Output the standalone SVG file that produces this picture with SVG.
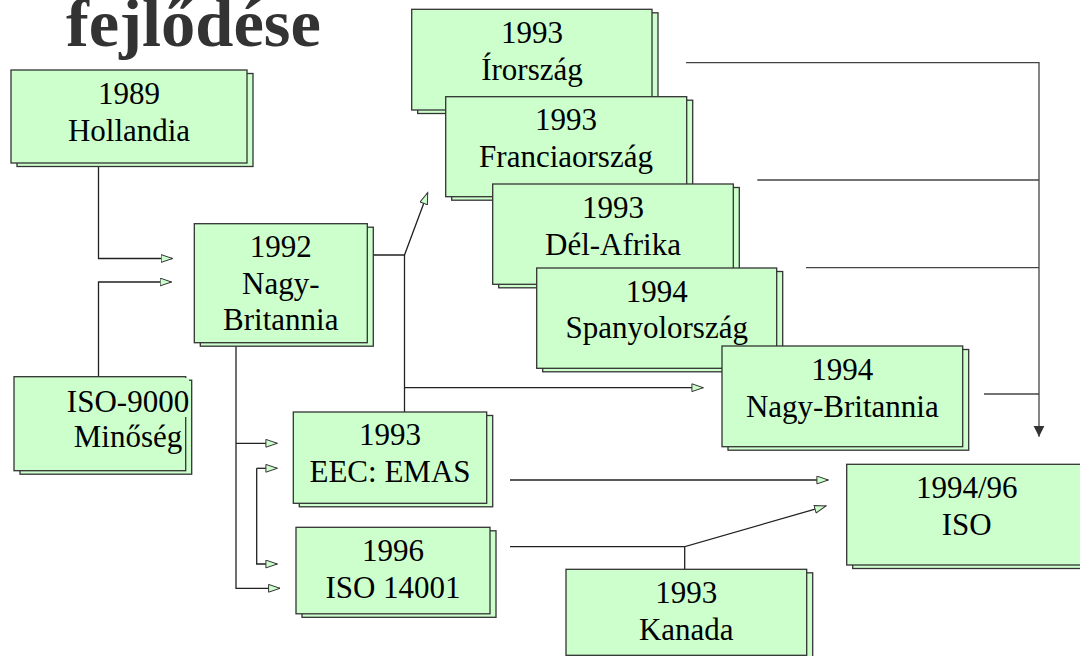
<svg xmlns="http://www.w3.org/2000/svg" width="1080" height="656" viewBox="0 0 1080 656">
<style>
.bg{fill:#fff}
.shadow{fill:#ccffcc;stroke:#333;stroke-width:1.3}
.front{fill:#ccffcc;stroke:#333;stroke-width:1.3}
.t{font-family:'Liberation Serif','DejaVu Serif',serif;font-size:31px;font-weight:normal;fill:#000;text-anchor:middle}
.title{font-family:'Liberation Serif','DejaVu Serif',serif;font-size:68.5px;font-weight:bold;fill:#333}
.c{fill:none;stroke:#222;stroke-width:1.3}
.ca{fill:none;stroke:#222;stroke-width:1.3;marker-end:url(#open)}
.cr{fill:none;stroke:#444;stroke-width:1.3}
</style>
<defs>
<marker id="open" markerWidth="14" markerHeight="10" refX="12" refY="4.5" orient="auto" markerUnits="userSpaceOnUse">
<path d="M0.6,0.6 L12,4.5 L0.6,8.4 z" fill="#ccffcc" stroke="#333" stroke-width="1"/>
</marker>
<marker id="solid" markerWidth="12" markerHeight="12" refX="11" refY="5.5" orient="auto" markerUnits="userSpaceOnUse">
<path d="M0,0 L11,5.5 L0,11 z" fill="#333"/>
</marker>
</defs>
<rect class="bg" x="0" y="0" width="1080" height="656"/>
<text class="title" x="66" y="46">fejlődése</text>

<g id="connectors">
<path class="ca" d="M98.5,167 V258.5 H172.5"/>
<path class="ca" d="M98.5,376.5 V282 H171.5"/>
<path class="ca" d="M373,255 H404.5 L427.7,192.7"/>
<path class="c" d="M404.5,255 V412"/>
<path class="ca" d="M404.5,387.7 H703.3"/>
<path class="ca" d="M236,346 V588.3 H280"/>
<path class="ca" d="M236,443.3 H277.3"/>
<path class="ca" d="M256.7,468.3 H277.3"/>
<path class="ca" d="M256.7,468.3 V564 H277.3"/>
<path class="ca" d="M510,480 H828.3"/>
<path class="c" d="M510,546.7 H684.7"/>
<path class="ca" d="M684.7,569.3 V546.7 L826,506"/>
<path class="cr" d="M686,62.7 H1039 V436.7" style="marker-end:url(#solid)"/>
<path class="cr" d="M757.3,180 H1039"/>
<path class="cr" d="M806,267.7 H1039"/>
<path class="cr" d="M984,394 H1039"/>
</g>

<g id="n-hollandia">
<rect class="shadow" x="17" y="73.5" width="236" height="93"/>
<rect class="front" x="11" y="70" width="236" height="93"/>
<text class="t" x="129" y="103.5">1989</text>
<text class="t" x="129" y="140.5">Hollandia</text>
</g>

<g id="n-iso9000">
<rect class="shadow" x="20" y="380.2" width="171.7" height="94"/>
<rect class="front" x="14" y="376.7" width="171.7" height="94"/>
<rect x="100" y="378" width="89" height="39" fill="#ccffcc"/>
<text class="t" x="128" y="411.7">ISO-9000</text>
<text class="t" x="128" y="447">Minőség</text>
</g>

<g id="n-nb1992">
<rect class="shadow" x="200.3" y="227.2" width="173" height="119"/>
<rect class="front" x="194.3" y="223.7" width="173" height="119"/>
<text class="t" x="280.8" y="257">1992</text>
<text class="t" x="280.8" y="293.5">Nagy-</text>
<text class="t" x="280.8" y="330">Britannia</text>
</g>

<g id="n-irorszag">
<rect class="shadow" x="417.7" y="12.8" width="240.3" height="100.7"/>
<rect class="front" x="411.7" y="9.3" width="240.3" height="100.7"/>
<text class="t" x="532" y="43">1993</text>
<text class="t" x="532" y="80">Írország</text>
</g>

<g id="n-franciaorszag">
<rect class="shadow" x="451.7" y="100.2" width="241" height="100"/>
<rect class="front" x="445.7" y="96.7" width="241" height="100"/>
<text class="t" x="566" y="130">1993</text>
<text class="t" x="566" y="167">Franciaország</text>
</g>

<g id="n-delafrika">
<rect class="shadow" x="498.7" y="187.5" width="240.6" height="100.3"/>
<rect class="front" x="492.7" y="184" width="240.6" height="100.3"/>
<text class="t" x="613" y="217.5">1993</text>
<text class="t" x="613" y="254.5">Dél-Afrika</text>
</g>

<g id="n-spanyolorszag">
<rect class="shadow" x="542.7" y="271.5" width="240" height="100.3"/>
<rect class="front" x="536.7" y="268" width="240" height="100.3"/>
<text class="t" x="656.7" y="301.7">1994</text>
<text class="t" x="656.7" y="338">Spanyolország</text>
</g>

<g id="n-nb1994">
<rect class="shadow" x="728" y="349.5" width="240.7" height="100.7"/>
<rect class="front" x="722" y="346" width="240.7" height="100.7"/>
<text class="t" x="842.3" y="379.5">1994</text>
<text class="t" x="842.3" y="416.5">Nagy-Britannia</text>
</g>

<g id="n-eec">
<rect class="shadow" x="299.3" y="415.5" width="193.4" height="91.3"/>
<rect class="front" x="293.3" y="412" width="193.4" height="91.3"/>
<text class="t" x="390" y="445.3">1993</text>
<text class="t" x="390" y="482">EEC: EMAS</text>
</g>

<g id="n-iso14001">
<rect class="shadow" x="302" y="530.8" width="194" height="86.5"/>
<rect class="front" x="296" y="527.3" width="194" height="86.5"/>
<text class="t" x="393" y="561">1996</text>
<text class="t" x="393" y="598">ISO 14001</text>
</g>

<g id="n-kanada">
<rect class="shadow" x="572" y="572.8" width="240.7" height="86"/>
<rect class="front" x="566" y="569.3" width="240.7" height="86"/>
<text class="t" x="686.3" y="603">1993</text>
<text class="t" x="686.3" y="640">Kanada</text>
</g>

<g id="n-iso">
<rect class="shadow" x="852.7" y="467.8" width="240" height="100.7"/>
<rect class="front" x="846.7" y="464.3" width="240" height="100.7"/>
<text class="t" x="966.7" y="498">1994/96</text>
<text class="t" x="966.7" y="535">ISO</text>
</g>
</svg>
